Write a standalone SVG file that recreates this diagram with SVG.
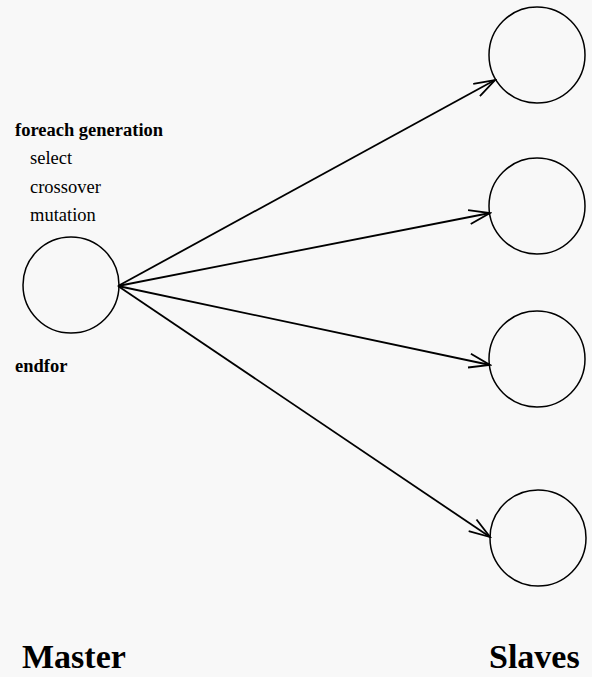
<svg xmlns="http://www.w3.org/2000/svg" width="592" height="677" viewBox="0 0 592 677">
<style>
.node{fill:none;stroke:#000;stroke-width:1.5}
.edge{stroke:#000;stroke-width:1.8;fill:none}
.t{font-family:"Liberation Serif","Times New Roman",serif;font-size:18.5px;fill:#000}
.b{font-weight:bold}
.big{font-family:"Liberation Serif","Times New Roman",serif;font-size:34px;font-weight:bold;fill:#000}
</style>
<defs>
<marker id="ah" markerUnits="userSpaceOnUse" markerWidth="24" markerHeight="16" refX="22" refY="8" orient="auto" viewBox="0 0 24 16">
<path d="M1,1 L22,8 L1,15" fill="none" stroke="#000" stroke-width="1.8"/>
</marker>
</defs>
<rect width="592" height="677" fill="#f8f8f8"/>
<g id="master"><circle class="node" cx="71" cy="285" r="48"/></g>
<g id="slave1"><circle class="node" cx="537" cy="55" r="48"/></g>
<g id="slave2"><circle class="node" cx="537" cy="206" r="48"/></g>
<g id="slave3"><circle class="node" cx="537" cy="359" r="48"/></g>
<g id="slave4"><circle class="node" cx="538" cy="538" r="48"/></g>
<g id="connectors">
<line class="edge" x1="118" y1="286" x2="495" y2="80" marker-end="url(#ah)"/>
<line class="edge" x1="118" y1="286" x2="490" y2="213" marker-end="url(#ah)"/>
<line class="edge" x1="118" y1="286" x2="490" y2="365" marker-end="url(#ah)"/>
<line class="edge" x1="118" y1="286" x2="490" y2="537" marker-end="url(#ah)"/>
</g>
<g id="labels">
<text class="t b" x="15" y="136">foreach generation</text>
<text class="t" x="30" y="164">select</text>
<text class="t" x="30" y="193">crossover</text>
<text class="t" x="30" y="221">mutation</text>
<text class="t b" x="15" y="372">endfor</text>
<text class="big" x="22" y="668">Master</text>
<text class="big" x="489" y="668">Slaves</text>
</g>
</svg>
